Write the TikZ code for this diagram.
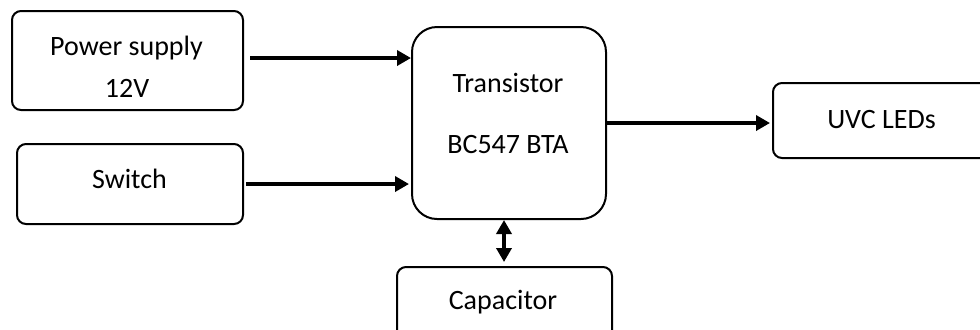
\documentclass[tikz,border=0pt]{standalone}
\usepackage{fontspec}
\setmainfont{Carlito}
\usetikzlibrary{arrows.meta,calc}
\tikzset{
  box/.style={draw, line width=1pt, rounded corners=4.5pt, inner sep=0pt, fill=white},
  bigbox/.style={draw, line width=1pt, rounded corners=12.5pt, inner sep=0pt, fill=white},
  lbl/.style={inner sep=0pt, font=\fontsize{14}{20}\selectfont, align=center},
  arr/.style={line width=2pt, -{Triangle[length=7pt,width=7.5pt]}},
  darr/.style={line width=2pt, {Triangle[length=7pt,width=7.5pt]}-{Triangle[length=7pt,width=7.5pt]}}
}
\begin{document}
\begin{tikzpicture}[x=0.5pt,y=-0.5pt]
\useasboundingbox[fill=white] (0,0) rectangle (980,329);
% boxes
\node[box, minimum width=115.5pt, minimum height=49.5pt] (ps) at (127.5,60.5) {};
\node[box, minimum width=113pt, minimum height=40pt] (sw) at (130,184) {};
\node[bigbox, minimum width=97pt, minimum height=96pt] (tr) at (509,123) {};
\node[box, minimum width=108.5pt, minimum height=37.5pt] (uvc) at (881.5,120.5) {};
\node[box, minimum width=107.5pt, minimum height=36.5pt] (cap) at (504.5,303.5) {};
% texts
\node[lbl] (pst1) at (126.5,48) {Power supply};
\node[lbl] (pst2) at (127,88) {12V};
\node[lbl] (swt) at (129.5,179) {Switch};
\node[lbl] (trt1) at (508,83) {Transistor};
\node[lbl] (trt2) at (508,144) {BC547 BTA};
\node[lbl] (uvct) at (881.5,120) {UVC LEDs};
\node[lbl] (capt) at (503,302) {Capacitor};
% connectors
\draw[arr] ([shift={(3pt,1.25pt)}]ps.east) -- ([yshift=1.25pt]ps.east -| tr.west);
\draw[arr] ([xshift=1pt]sw.east) -- ([xshift=-1pt]sw.east -| tr.west);
\draw[arr] (tr.east) -- ([xshift=-1pt]tr.east -| uvc.west);
\draw[darr] ([xshift=-2.5pt]tr.south) -- ([xshift=-2.5pt,yshift=2pt]tr.south |- cap.north);
\end{tikzpicture}
\end{document}
